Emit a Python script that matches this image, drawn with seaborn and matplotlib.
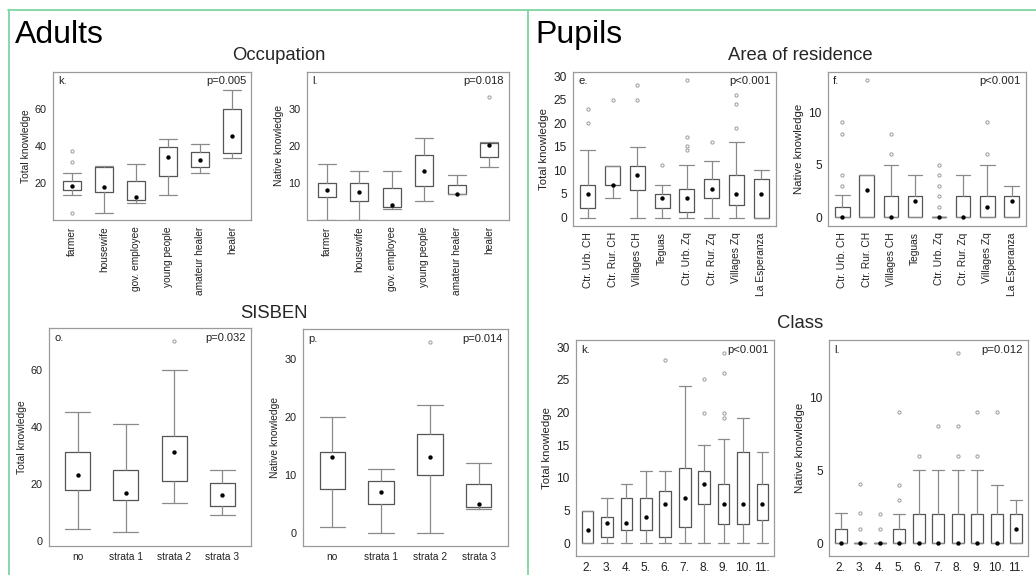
import matplotlib
matplotlib.use("Agg")
import matplotlib.pyplot as plt
from matplotlib.lines import Line2D
import seaborn as sns

sns.set_style("white")
plt.rcParams['font.family'] = ['Liberation Sans', 'DejaVu Sans']

W, H = 1036, 575

# ---------------- Adults: Occupation ----------------
occ_cats = ["farmer", "housewife", "gov. employee", "young people", "amateur healer", "healer"]
occ_tot_lo = [13.5, 4, 9.2, 13.5, 25.4, 33.5]
occ_tot_q1 = [16.2, 15.1, 10.6, 23.8, 28.8, 36.4]
occ_tot_med = [18.5, 18, 12.4, 34.2, 32.4, 45.4]
occ_tot_q3 = [21, 28.8, 21, 39.3, 36.8, 60]
occ_tot_hi = [25.2, 29.2, 30.5, 44, 41.3, 70.3]
occ_tot_fl = [[37.5, 31.4, 3.6], [], [], [], [], []]

occ_nat_lo = [0, 0, 3, 5.1, 7.1, 14.3]
occ_nat_q1 = [6.1, 5.1, 3.4, 9.1, 7.1, 17]
occ_nat_med = [8.1, 7.6, 4.1, 13.2, 7.1, 20.2]
occ_nat_q3 = [10, 10, 8.6, 17.5, 9.5, 20.8]
occ_nat_hi = [15.2, 13.2, 13.2, 22.1, 12.1, 21]
occ_nat_fl = [[], [], [], [], [], [33.2]]

# ---------------- Adults: SISBEN ----------------
sis_cats = ["no", "strata 1", "strata 2", "strata 3"]
sis_tot_lo = [4, 2.9, 13.1, 9]
sis_tot_q1 = [17.8, 14.1, 21.1, 12.3]
sis_tot_med = [23, 16.6, 31.1, 16.1]
sis_tot_q3 = [31, 24.9, 36.9, 20.4]
sis_tot_hi = [45.1, 41, 60, 24.9]
sis_tot_fl = [[], [], [70], []]

sis_nat_lo = [1, 0, 0, 4.05]
sis_nat_q1 = [7.5, 5, 10, 4.45]
sis_nat_med = [13.1, 7.05, 13.1, 5.0]
sis_nat_q3 = [14, 9, 17, 8.5]
sis_nat_hi = [20, 11, 22, 12]
sis_nat_fl = [[], [], [33], []]

# ---------------- Pupils: Area of residence ----------------
area_cats = ["Ctr. Urb. CH", "Ctr. Rur. CH", "Villages CH", "Teguas",
             "Ctr. Urb. Zq", "Ctr. Rur. Zq", "Villages Zq", "La Esperanza"]
area_tot_lo = [0, 4.2, 0, 0, 0, 0, 0, 0]
area_tot_q1 = [2.1, 7, 5.9, 2.1, 1.1, 4.1, 2.6, 0]
area_tot_med = [5, 7, 9.1, 4.1, 4.1, 6.1, 5.1, 5.1]
area_tot_q3 = [7, 11, 11, 5, 6, 8.1, 9.1, 8.1]
area_tot_hi = [14.3, 11, 15, 7, 11.1, 12.1, 16.1, 10]
area_tot_fl = [[23.1, 20.1], [25], [28.1, 24.9], [11.1],
               [29.2, 17.1, 15.1, 14.3], [16.1], [26.1, 24.2, 19.1], []]

area_nat_lo = [0, 0, 0, 0, 0, 0, 0, 0]
area_nat_q1 = [0, 0, 0, 0, 0, 0, 0, 0]
area_nat_med = [0, 2.55, 0, 1.5, 0, 0, 1.0, 1.5]
area_nat_q3 = [1, 4, 2, 2, 0, 2, 2, 2]
area_nat_hi = [2.07, 4, 5, 4, 0, 4, 5, 3]
area_nat_fl = [[9.1, 8, 4, 3], [13.1], [8, 6], [], [5, 4, 3, 2, 1], [], [9.1, 6], []]

# ---------------- Pupils: Class ----------------
cls_cats = ["2.", "3.", "4.", "5.", "6.", "7.", "8.", "9.", "10.", "11."]
cls_tot_lo = [0, 0, 0, 0, 0, 0, 0, 0, 0, 0]
cls_tot_q1 = [0, 1, 2, 2, 1, 2.55, 6.06, 2.95, 3, 3.57]
cls_tot_med = [2.04, 3.06, 3.06, 4, 6.06, 7, 9, 6.06, 6, 6]
cls_tot_q3 = [5, 4, 7, 7, 8, 11.5, 11, 9, 14, 9]
cls_tot_hi = [5, 7, 9, 11, 11, 24, 15, 16, 19.1, 14]
cls_tot_fl = [[], [], [], [], [28.1], [], [25.1, 20], [29.1, 26.1, 20, 19.1], [], []]

cls_nat_lo = [0, 0, 0, 0, 0, 0, 0, 0, 0, 0]
cls_nat_q1 = [0, 0, 0, 0, 0, 0, 0, 0, 0, 0]
cls_nat_med = [0, 0, 0, 0, 0, 0, 0, 0, 0, 1]
cls_nat_q3 = [1, 0, 0, 1, 2, 2, 2, 2, 2, 2]
cls_nat_hi = [2.05, 0, 0, 2, 5, 5, 5, 5, 4, 3]
cls_nat_fl = [[], [4.05, 2.05, 1], [2, 1], [9, 4, 3], [6], [8], [13, 8, 6], [9, 6], [9], []]


def rect(l, r, t, b):
    return [l / W, 1 - b / H, (r - l) / W, (b - t) / H]


fig = plt.figure(figsize=(W / 100, H / 100), dpi=100)

BOX_C = '#555555'
WH_C = '#8a8a8a'
TXT = '#222222'


def panel(r, cats, lo, q1, med, q3, hi, fl, ylim, yticks, ylabel, letter, ptxt, rot,
          width=0.55, fs_x=7.0, fs_y=7.2, fs_lab=7.2, fs_p=8.2):
    ax = fig.add_axes(rect(*r))
    n = len(cats)
    pos = list(range(n))
    stats = [dict(whislo=lo[i], q1=q1[i], med=med[i], q3=q3[i], whishi=hi[i],
                  fliers=fl[i]) for i in range(n)]
    ax.bxp(stats, positions=pos, widths=width, capwidths=width, showfliers=True,
           boxprops=dict(color=BOX_C, lw=0.9),
           whiskerprops=dict(color=WH_C, lw=0.9),
           capprops=dict(color=WH_C, lw=0.9),
           medianprops=dict(lw=0),
           flierprops=dict(marker='o', markersize=2.3, markerfacecolor='none',
                           markeredgecolor='#9a9a9a', markeredgewidth=0.7))
    sns.scatterplot(x=pos, y=med, ax=ax, color='black', s=10, linewidth=0, zorder=5)
    ax.set_xlim(-0.6, n - 0.4)
    ax.set_ylim(*ylim)
    ax.set_yticks(yticks)
    ax.set_xticks(pos)
    ax.set_xticklabels(cats, rotation=rot, fontsize=fs_x, color=TXT)
    ax.tick_params(axis='y', labelsize=fs_y, labelcolor=TXT)
    ax.tick_params(direction='out', length=3, width=0.7, color='#777777', pad=1.5)
    ax.set_ylabel(ylabel, fontsize=fs_lab, color=TXT, labelpad=3)
    for s in ax.spines.values():
        s.set_color('#9a9a9a')
        s.set_linewidth(0.9)
    ax.text(0.025, 0.975, letter, transform=ax.transAxes, ha='left', va='top',
            fontsize=fs_p, color=TXT)
    ax.text(0.975, 0.975, ptxt, transform=ax.transAxes, ha='right', va='top',
            fontsize=fs_p, color=TXT)
    return ax


adult_fs = dict(fs_x=7.3, fs_y=7.8, fs_lab=7.4, fs_p=8.0)
pupil_rot_fs = dict(fs_x=7.4, fs_y=8.6, fs_lab=8.2, fs_p=8.2)
pupil_cls_fs = dict(fs_x=8.6, fs_y=8.6, fs_lab=8.2, fs_p=8.2)

panel((53, 251, 72, 220), occ_cats, occ_tot_lo, occ_tot_q1, occ_tot_med, occ_tot_q3,
      occ_tot_hi, occ_tot_fl, (0, 80), [20, 40, 60], "Total knowledge", "k.", "p=0.005", 90,
      **adult_fs)
panel((307, 509, 72, 220), occ_cats, occ_nat_lo, occ_nat_q1, occ_nat_med, occ_nat_q3,
      occ_nat_hi, occ_nat_fl, (0, 40), [10, 20, 30], "Native knowledge", "l.", "p=0.018", 90,
      **adult_fs)
panel((49, 251, 328, 546), sis_cats, sis_tot_lo, sis_tot_q1, sis_tot_med, sis_tot_q3,
      sis_tot_hi, sis_tot_fl, (-1.9, 74.7), [0, 20, 40, 60], "Total knowledge", "o.", "p=0.032", 0,
      width=0.52, **adult_fs)
panel((303, 508, 329, 546), sis_cats, sis_nat_lo, sis_nat_q1, sis_nat_med, sis_nat_q3,
      sis_nat_hi, sis_nat_fl, (-2.3, 35.2), [0, 10, 20, 30], "Native knowledge", "p.", "p=0.014", 0,
      width=0.52, **adult_fs)
panel((573, 776, 72, 226), area_cats, area_tot_lo, area_tot_q1, area_tot_med, area_tot_q3,
      area_tot_hi, area_tot_fl, (-1.8, 30.9), [0, 5, 10, 15, 20, 25, 30], "Total knowledge", "e.",
      "p<0.001", 90, width=0.6, **pupil_rot_fs)
panel((828, 1026, 72, 226), area_cats, area_nat_lo, area_nat_q1, area_nat_med, area_nat_q3,
      area_nat_hi, area_nat_fl, (-0.86, 13.9), [0, 5, 10], "Native knowledge", "f.", "p<0.001", 90,
      width=0.6, **pupil_rot_fs)
panel((576, 774, 340, 556), cls_cats, cls_tot_lo, cls_tot_q1, cls_tot_med, cls_tot_q3,
      cls_tot_hi, cls_tot_fl, (-1.94, 31.1), [0, 5, 10, 15, 20, 25, 30], "Total knowledge", "k.",
      "p<0.001", 0, width=0.6, **pupil_cls_fs)
panel((829, 1028, 340, 556), cls_cats, cls_nat_lo, cls_nat_q1, cls_nat_med, cls_nat_q3,
      cls_nat_hi, cls_nat_fl, (-0.86, 13.9), [0, 5, 10], "Native knowledge", "l.", "p=0.012", 0,
      width=0.6, **pupil_cls_fs)

# titles
fig.text(15 / W, 1 - 43 / H, "Adults", fontsize=23, ha='left', va='baseline', color='black')
fig.text(535 / W, 1 - 43 / H, "Pupils", fontsize=23, ha='left', va='baseline', color='black')
fig.text(279 / W, 1 - 55 / H, "Occupation", fontsize=13.3, ha='center', va='center')
fig.text(274 / W, 1 - 313 / H, "SISBEN", fontsize=13.3, ha='center', va='center')
fig.text(800 / W, 1 - 55 / H, "Area of residence", fontsize=13.3, ha='center', va='center')
fig.text(800 / W, 1 - 323 / H, "Class", fontsize=13.3, ha='center', va='center')

# green frame lines
GREEN = '#7fd6a3'
fig.add_artist(Line2D([8 / W, 1.0], [1 - 9.5 / H, 1 - 9.5 / H], color=GREEN, lw=1.3,
                      transform=fig.transFigure))
fig.add_artist(Line2D([9 / W, 9 / W], [0, 1 - 9.5 / H], color=GREEN, lw=1.3,
                      transform=fig.transFigure))
fig.add_artist(Line2D([528 / W, 528 / W], [0, 1 - 9.5 / H], color=GREEN, lw=1.3,
                      transform=fig.transFigure))

fig.savefig("out.png", dpi=100)
